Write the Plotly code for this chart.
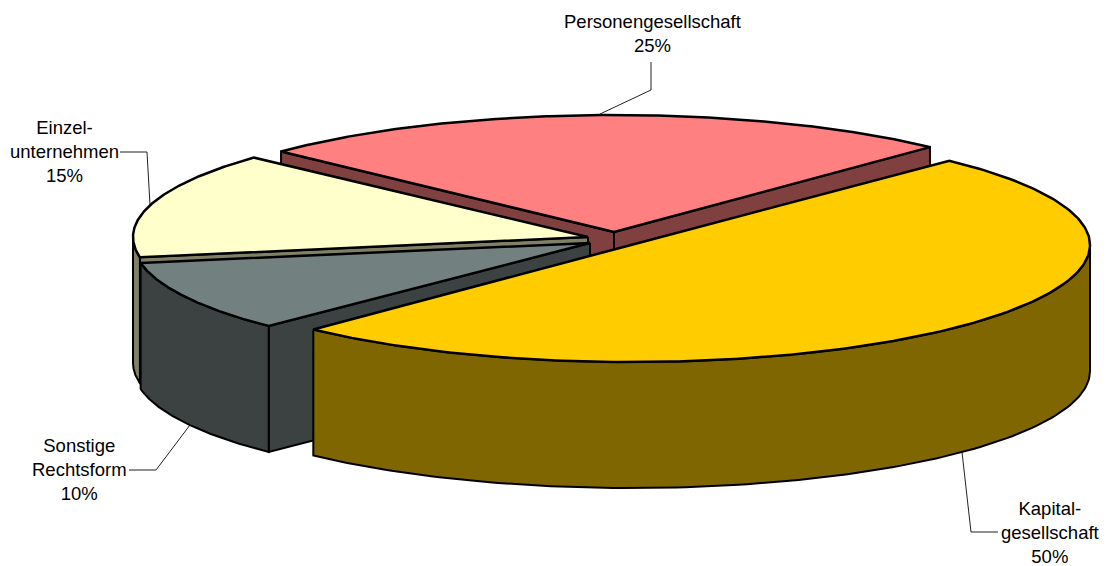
import numpy as np
import plotly.graph_objects as go

# --- data ---
categories = ["Personengesellschaft", "Einzel-<br>unternehmen", "Sonstige<br>Rechtsform", "Kapital-<br>gesellschaft"]
shares = [25, 15, 10, 50]
percent_labels = ["25%", "15%", "10%", "50%"]

# --- style and geometry ---
top_colors = ["#FF8080", "#FFFFCC", "#738080", "#FFCC00"]
side_colors = ["#804040", "#808066", "#3C4242", "#806600"]
slice_centers = [(614, 232), (588, 237), (590, 243), (631, 245)]
slice_rx = [459, 455, 456, 459]
# small per-slice corrections (degrees) that mimic the original's perspective
angle_nudge = [(0, 0), (0.5, -0.5), (-0.7, -1.3), (-0.3, -0.4)]
label_pos = [(652, 33), (64, 151), (79, 469), (1050, 532)]
leader_paths = [
    [(600, 114), (651, 90), (651, 62)],
    [(150, 205), (147, 152), (120, 152)],
    [(190, 425), (156, 470), (129, 470)],
    [(962, 452), (971, 532), (998, 532)],
]
RY, DEPTH = 117, 126
START_ANGLE = 46.5
FONT = "Liberation Sans, Arial, sans-serif"

fig = go.Figure()


def rim(cx, cy, rx, t):
    r = np.radians(t)
    return cx + rx * np.cos(r), cy - RY * np.sin(r)


def poly(xs, ys, fill, width):
    fig.add_trace(go.Scatter(x=list(xs), y=list(ys), mode="lines", fill="toself",
                             fillcolor=fill, line=dict(color="black", width=width),
                             hoverinfo="skip", showlegend=False))


for path in leader_paths:
    fig.add_trace(go.Scatter(x=[p[0] for p in path], y=[p[1] for p in path], mode="lines",
                             line=dict(color="#222222", width=1), hoverinfo="skip", showlegend=False))

angle = START_ANGLE
for i, share in enumerate(shares):
    t0, t1 = angle + angle_nudge[i][0], angle + share * 3.6 + angle_nudge[i][1]
    angle += share * 3.6
    cx, cy = slice_centers[i]
    rx = slice_rx[i]
    # visible cut faces
    for t, visible in ((t0, np.cos(np.radians(t0)) > 0), (t1, np.cos(np.radians(t1)) < 0)):
        if visible:
            x, y = rim(cx, cy, rx, t)
            poly([cx, x, x, cx, cx], [cy, y, y + DEPTH, cy + DEPTH, cy], side_colors[i], 2)
    # outer wall (lower half of the ellipse only)
    a, b = max(t0, 180), min(t1, 360)
    if b > a:
        ts = np.linspace(a, b, 120)
        xs, ys = rim(cx, cy, rx, ts)
        poly(np.r_[xs, xs[::-1], xs[0]], np.r_[ys, ys[::-1] + DEPTH, ys[0]], side_colors[i], 2)
    # top face
    ts = np.linspace(t0, t1, 200)
    xs, ys = rim(cx, cy, rx, ts)
    poly(np.r_[cx, xs, cx], np.r_[cy, ys, cy], top_colors[i], 2.5)

for name, pct, (x, y) in zip(categories, percent_labels, label_pos):
    fig.add_annotation(x=x, y=y, text=f"{name}<br>{pct}", showarrow=False, align="center",
                       xanchor="center", yanchor="middle",
                       font=dict(family=FONT, size=18.5, color="black"))

fig.update_layout(
    width=1106, height=566, margin=dict(l=0, r=0, t=0, b=0),
    paper_bgcolor="white", plot_bgcolor="white", showlegend=False,
    xaxis=dict(range=[0, 1106], visible=False, fixedrange=True),
    yaxis=dict(range=[566, 0], visible=False, fixedrange=True),
)
fig.write_html("out.html", config={"displayModeBar": False},
               post_script="document.body.style.margin='0';document.documentElement.style.overflow='hidden';")
